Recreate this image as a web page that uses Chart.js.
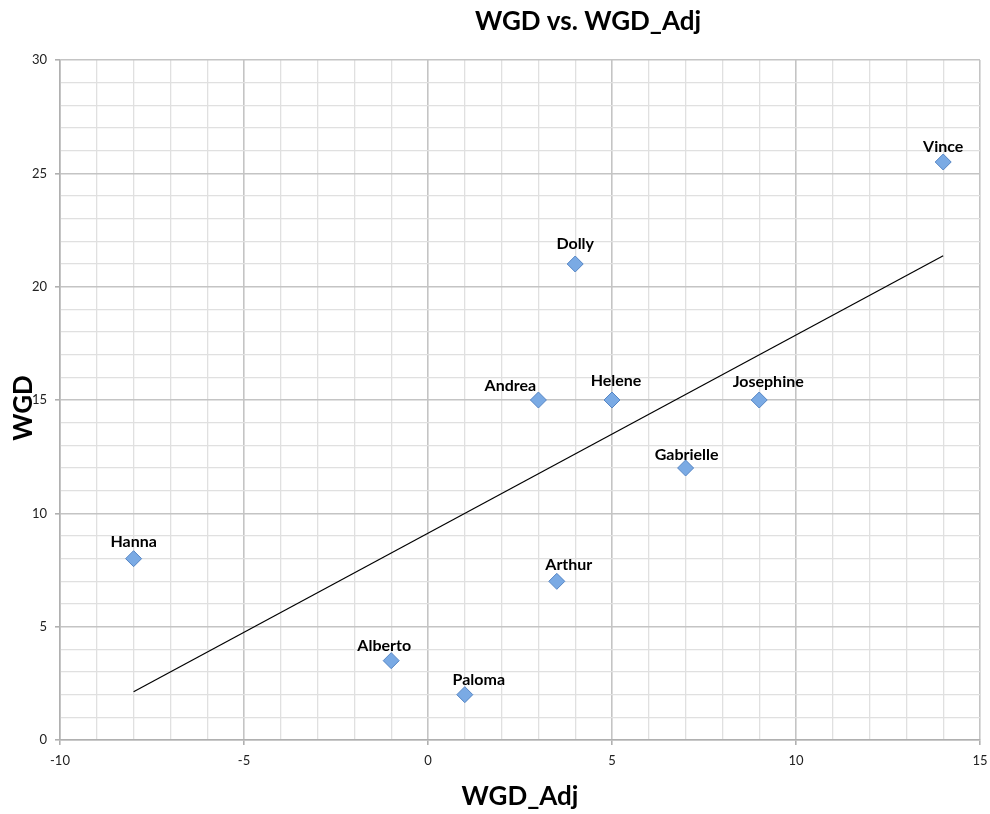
<!DOCTYPE html>
<html>
<head>
<meta charset="utf-8">
<script src="https://cdn.jsdelivr.net/npm/chart.js@4"></script>
<style>
  html, body { margin: 0; padding: 0; background: #fff; }
  #wrap { width: 990px; height: 814px; }
</style>
</head>
<body>
<div id="wrap"><canvas id="myChart" width="990" height="814"></canvas></div>
<script>
// data
const names = ['Vince', 'Dolly', 'Andrea', 'Helene', 'Josephine', 'Gabrielle', 'Hanna', 'Arthur', 'Alberto', 'Paloma'];
const wgdAdj = [14, 4, 3, 5, 9, 7, -8, 3.5, -1, 1];
const wgd = [25.5, 21, 15, 15, 15, 12, 8, 7, 3.5, 2];
// trendline ends as drawn
const trendX = [-8, 14];
const trendY = [2.13, 21.36];
const xTicks = [-10, -5, 0, 5, 10, 15];
const yTicks = [0, 5, 10, 15, 20, 25, 30];

// label nudges in px (dx, dy above the point)
const labelNudge = {
    Vince: [0, -15], Dolly: [0, -20], Andrea: [-28, -14], Helene: [4, -19],
    Josephine: [9, -18], Gabrielle: [1, -13], Hanna: [0, -17], Arthur: [12, -16],
    Alberto: [-7, -15], Paloma: [14, -15]
};

const FONT = 'Lato, "Liberation Sans", sans-serif';

const pointLabels = {
    id: 'pointLabels',
    afterDatasetsDraw(chart) {
        const ctx = chart.ctx;
        const meta = chart.getDatasetMeta(0);
        ctx.save();
        ctx.font = 'bold 16px ' + FONT;
        ctx.fillStyle = '#000';
        ctx.textAlign = 'center';
        ctx.textBaseline = 'middle';
        meta.data.forEach((pt, i) => {
            const n = labelNudge[names[i]] || [0, -15];
            ctx.fillText(names[i], pt.x + n[0], pt.y + n[1]);
        });
        ctx.restore();
    }
};

const titles = {
    id: 'titles',
    afterDraw(chart) {
        const ctx = chart.ctx;
        ctx.save();
        ctx.fillStyle = '#000';
        ctx.textAlign = 'center';
        ctx.textBaseline = 'middle';
        ctx.font = 'bold 26px ' + FONT;
        ctx.fillText('WGD vs. WGD_Adj', 588, 22);
        ctx.font = 'bold 26px ' + FONT;
        ctx.fillText('WGD_Adj', 520, 797);
        ctx.translate(24, 408);
        ctx.rotate(-Math.PI / 2);
        ctx.fillText('WGD', 0, 0);
        ctx.restore();
    }
};

function isMajor(v) { return Math.abs(v % 5) < 1e-9; }

const ctx = document.getElementById('myChart').getContext('2d');
const myChart = new Chart(ctx, {
    type: 'scatter',
    data: {
        datasets: [{
            label: 'WGD',
            data: wgdAdj.map((x, i) => ({ x: x, y: wgd[i] })),
            pointStyle: 'rectRot',
            pointRadius: 8,
            pointHoverRadius: 8,
            backgroundColor: '#7aaae4',
            borderColor: '#5585c4',
            borderWidth: 1
        }, {
            label: 'Trend',
            data: trendX.map((x, i) => ({ x: x, y: trendY[i] })),
            showLine: true,
            pointRadius: 0,
            borderColor: '#000',
            borderWidth: 1.2
        }]
    },
    options: {
        responsive: false,
        animation: false,
        layout: { padding: { top: 60, right: 10, left: 0, bottom: 0 } },
        plugins: {
            legend: { display: false },
            title: { display: false },
            tooltip: { enabled: false }
        },
        scales: {
            x: {
                type: 'linear',
                min: xTicks[0],
                max: xTicks[xTicks.length - 1],
                afterFit: s => { s.height = 74; s.paddingLeft = 0; s.paddingRight = 0; },
                ticks: {
                    stepSize: 1,
                    autoSkip: false,
                    maxRotation: 0,
                    padding: 8,
                    color: '#222',
                    font: { family: FONT, size: 13 },
                    callback: v => xTicks.includes(v) ? String(v) : ''
                },
                grid: {
                    color: c => isMajor(c.tick.value) ? '#c4c4c4' : '#e0e0e0',
                    lineWidth: c => isMajor(c.tick.value) ? 1.6 : 1.3,
                    tickColor: c => isMajor(c.tick.value) ? '#b0b0b0' : 'rgba(0,0,0,0)',
                    tickLength: 5
                },
                border: { color: '#b0b0b0', width: 1.5 }
            },
            y: {
                type: 'linear',
                min: yTicks[0],
                max: yTicks[yTicks.length - 1],
                afterFit: s => { s.width = 60; s.paddingTop = 0; s.paddingBottom = 0; },
                ticks: {
                    stepSize: 1,
                    autoSkip: false,
                    padding: 8,
                    color: '#222',
                    font: { family: FONT, size: 13 },
                    callback: v => yTicks.includes(v) ? String(v) : ''
                },
                grid: {
                    color: c => isMajor(c.tick.value) ? '#c4c4c4' : '#e0e0e0',
                    lineWidth: c => isMajor(c.tick.value) ? 1.6 : 1.3,
                    tickColor: c => isMajor(c.tick.value) ? '#b0b0b0' : 'rgba(0,0,0,0)',
                    tickLength: 5
                },
                border: { color: '#b0b0b0', width: 1.5 }
            }
        }
    },
    plugins: [pointLabels, titles]
});
</script>
</body>
</html>
